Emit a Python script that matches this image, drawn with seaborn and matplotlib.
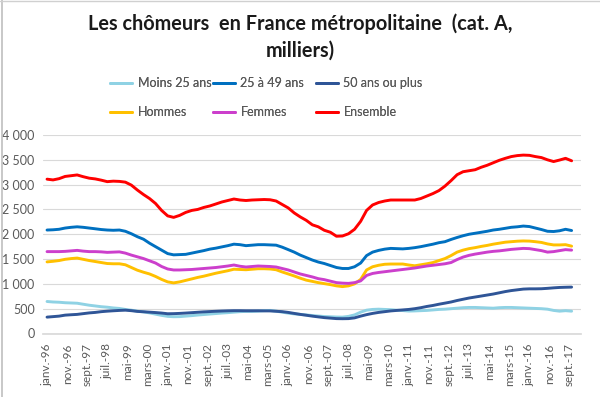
import numpy as np
import pandas as pd
import matplotlib
matplotlib.use("Agg")
import matplotlib.pyplot as plt
import matplotlib.ticker as mticker
from matplotlib.lines import Line2D
import seaborn as sns

sns.set_theme(style="white")
plt.rcParams["font.family"] = ["Lato", "DejaVu Sans"]

# quarterly readings, janv.-96 .. oct.-17 (milliers)
dates = pd.date_range("1996-01-01", periods=88, freq="QS")

moins25 = [645, 635, 630, 620, 615, 610, 590, 570,
           555, 540, 530, 515, 505, 485, 470, 450,
           435, 415, 390, 365, 345, 338, 340, 350,
           360, 372, 382, 392, 402, 412, 420, 430,
           440, 445, 445, 450, 460, 465, 450, 430,
           410, 395, 385, 375, 362, 352, 342, 337,
           332, 330, 345, 375, 430, 470, 485, 490,
           485, 480, 470, 462, 452, 455, 460, 465,
           475, 485, 490, 500, 510, 520, 525, 525,
           520, 515, 510, 520, 525, 525, 520, 515,
           510, 505, 500, 490, 465, 450, 460, 450]

age25_49 = [2085, 2090, 2100, 2125, 2140, 2150, 2140, 2125,
            2110, 2095, 2085, 2080, 2085, 2060, 2010, 1950,
            1900, 1820, 1750, 1680, 1610, 1585, 1590, 1595,
            1620, 1645, 1670, 1700, 1720, 1745, 1770, 1800,
            1790, 1770, 1780, 1790, 1790, 1785, 1780, 1740,
            1690, 1640, 1580, 1530, 1480, 1440, 1410, 1370,
            1330, 1310, 1310, 1345, 1420, 1570, 1640, 1675,
            1700, 1715, 1710, 1705, 1715, 1730, 1750, 1775,
            1800, 1830, 1850, 1895, 1935, 1970, 2000, 2020,
            2040, 2060, 2085, 2100, 2120, 2140, 2150, 2165,
            2155, 2125, 2095, 2060, 2055, 2070, 2100, 2075]

plus50 = [330, 340, 350, 370, 378, 385, 400, 415,
          425, 440, 450, 458, 465, 470, 460, 445,
          438, 430, 422, 412, 398, 400, 405, 412,
          420, 428, 436, 442, 448, 453, 457, 460,
          460, 458, 458, 458, 456, 455, 448, 440,
          425, 405, 385, 368, 350, 335, 320, 310,
          300, 298, 300, 315, 350, 380, 405, 425,
          440, 455, 465, 475, 485, 500, 520, 545,
          565, 590, 612, 635, 665, 690, 715, 735,
          755, 775, 795, 820, 845, 865, 880, 895,
          900, 900, 902, 910, 920, 928, 932, 935]

hommes = [1443, 1455, 1470, 1495, 1510, 1520, 1495, 1470,
          1450, 1430, 1410, 1405, 1405, 1385, 1330, 1275,
          1235, 1200, 1150, 1090, 1040, 1020, 1040, 1070,
          1100, 1130, 1155, 1185, 1215, 1240, 1265, 1295,
          1290, 1285, 1295, 1305, 1305, 1300, 1285, 1240,
          1200, 1160, 1115, 1075, 1050, 1025, 1005, 985,
          960, 945, 960, 1000, 1090, 1280, 1345, 1375,
          1395, 1400, 1400, 1400, 1380, 1365, 1385, 1405,
          1430, 1470, 1510, 1570, 1640, 1680, 1710, 1730,
          1755, 1775, 1800, 1820, 1840, 1850, 1860, 1865,
          1862, 1850, 1835, 1805, 1785, 1785, 1790, 1760]

femmes = [1650, 1650, 1650, 1655, 1665, 1675, 1660, 1650,
          1650, 1645, 1635, 1640, 1645, 1620, 1580, 1545,
          1510, 1465, 1420, 1350, 1300, 1280, 1280, 1285,
          1290, 1300, 1310, 1320, 1330, 1345, 1360, 1380,
          1355, 1340, 1350, 1360, 1355, 1350, 1340, 1310,
          1280, 1240, 1200, 1170, 1140, 1105, 1085, 1055,
          1025, 1015, 1010, 1025, 1060, 1170, 1210, 1230,
          1245, 1260, 1275, 1290, 1305, 1320, 1340, 1360,
          1375, 1390, 1405, 1430, 1490, 1540, 1575, 1600,
          1620, 1640, 1655, 1665, 1680, 1695, 1705, 1715,
          1710, 1690, 1670, 1640, 1650, 1670, 1690, 1680]

ensemble = [3110, 3095, 3120, 3165, 3180, 3195, 3160, 3130,
            3115, 3090, 3060, 3070, 3065, 3050, 2990, 2890,
            2800, 2720, 2620, 2480, 2370, 2340, 2380, 2440,
            2480, 2500, 2540, 2570, 2610, 2650, 2680, 2710,
            2690, 2680, 2690, 2695, 2700, 2695, 2670, 2600,
            2530, 2430, 2350, 2280, 2190, 2150, 2080, 2040,
            1960, 1965, 2010, 2100, 2260, 2480, 2590, 2640,
            2670, 2690, 2690, 2690, 2690, 2690, 2720, 2770,
            2820, 2880, 2970, 3080, 3200, 3260, 3280, 3300,
            3350, 3390, 3440, 3490, 3530, 3565, 3585, 3595,
            3590, 3565, 3545, 3500, 3465, 3495, 3530, 3480]

tick_dates = pd.date_range("1996-01-01", periods=27, freq="10MS")
tick_labels = ["janv.-96", "nov.-96", "sept.-97", "juil.-98", "mai-99", "mars-00",
               "janv.-01", "nov.-01", "sept.-02", "juil.-03", "mai-04", "mars-05",
               "janv.-06", "nov.-06", "sept.-07", "juil.-08", "mai-09", "mars-10",
               "janv.-11", "nov.-11", "sept.-12", "juil.-13", "mai-14", "mars-15",
               "janv.-16", "nov.-16", "sept.-17"]

series = [
    ("Moins 25 ans", moins25, "#8FD2E4"),
    ("25 à 49 ans", age25_49, "#0070C0"),
    ("50 ans ou plus", plus50, "#2F5597"),
    ("Hommes", hommes, "#FFC000"),
    ("Femmes", femmes, "#CC3FCC"),
    ("Ensemble", ensemble, "#FF0000"),
]

fig = plt.figure(figsize=(6, 3.97), dpi=100)
ax = fig.add_axes([43 / 600, (397 - 333.5) / 397, 538 / 600, 198.5 / 397])

for name, vals, col in series:
    sns.lineplot(x=dates, y=vals, ax=ax, color=col, linewidth=2.1, label=name, legend=False)

ax.set_ylim(0, 4000)
ax.set_xlim(pd.Timestamp("1995-11-01"), pd.Timestamp("2018-02-20"))
ax.set_yticks(range(0, 4001, 500))
ax.yaxis.set_major_formatter(mticker.FuncFormatter(lambda v, p: f"{int(v):,}".replace(",", " ")))
ax.set_xticks(tick_dates)
ax.set_xticklabels(tick_labels, rotation=90)
ax.tick_params(axis="x", colors="#D9D9D9", length=4, width=0.8, labelcolor="#595959", labelsize=8.5, pad=3)
ax.tick_params(axis="y", length=0, labelcolor="#595959", labelsize=9, pad=6)
ax.grid(axis="y", color="#D9D9D9", linewidth=0.8)
ax.grid(axis="x", visible=False)
for s in ["top", "right", "left"]:
    ax.spines[s].set_visible(False)
ax.spines["bottom"].set_color("#D9D9D9")
ax.set_xlabel("")
ax.set_ylabel("")

fig.text(0.5, 1 - 13 / 397, "Les chômeurs  en France métropolitaine  (cat. A,\nmilliers)",
         ha="center", va="top", fontsize=14.3, fontweight="bold", color="#1a1a1a", linespacing=1.45)

# legend: three columns placed like the Excel legend
handles = {l.get_label(): l for l in ax.get_lines()}
columns = [(110, ["Moins 25 ans", "Hommes"]),
           (213, ["25 à 49 ans", "Femmes"]),
           (316, ["50 ans ou plus", "Ensemble"])]
for xpx, names in columns:
    leg = fig.legend([handles[k] for k in names], names, ncol=1, loc="upper left",
                     bbox_to_anchor=(xpx / 600, 1 - 77 / 397), frameon=False, fontsize=9,
                     handlelength=1.75, handletextpad=0.45, labelspacing=1.35,
                     borderpad=0, borderaxespad=0, labelcolor="#595959")
    fig.add_artist(leg)

fig.add_artist(Line2D([0.004, 0.004], [0, 1], color="#BFBFBF", linewidth=1.2))
fig.add_artist(Line2D([0, 1], [0.998, 0.998], color="#D0D0D0", linewidth=1))

fig.savefig("out.png", dpi=100)
